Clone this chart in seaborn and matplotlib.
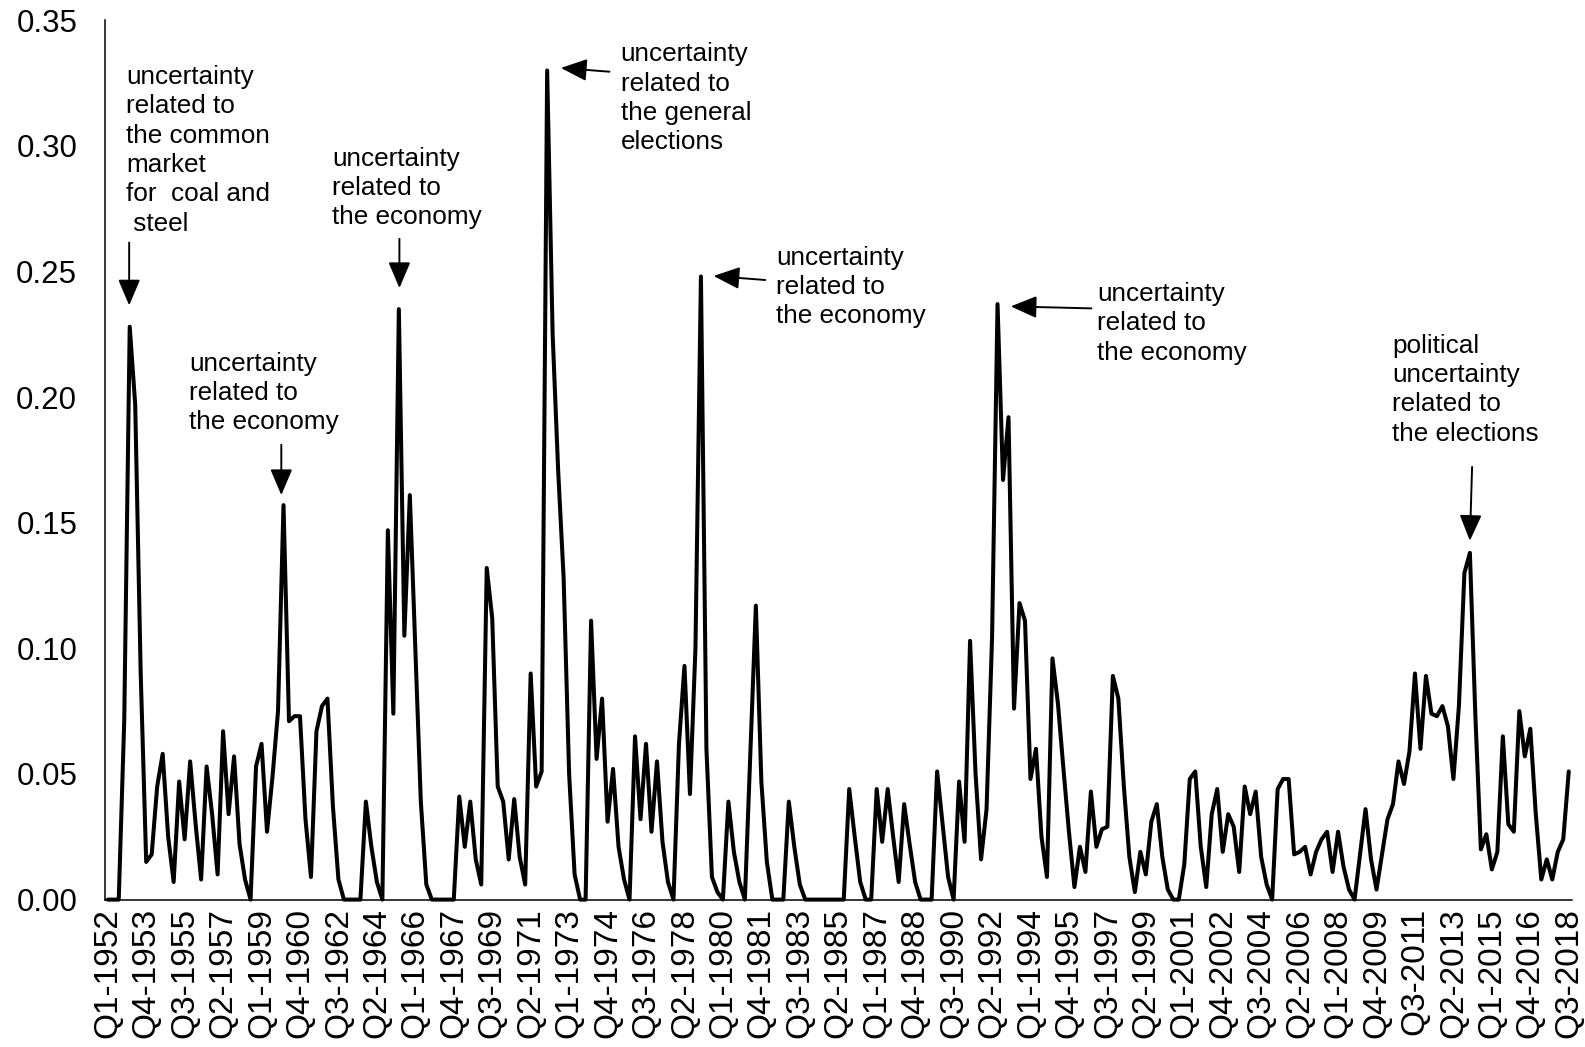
import matplotlib
matplotlib.use("Agg")
import matplotlib.pyplot as plt
import seaborn as sns
import pandas as pd
import numpy as np
from matplotlib.ticker import FormatStrFormatter

# ---------------- data ----------------
start_year = 1952
uncertainty = [
    0.000, 0.000, 0.000, 0.071,  # 1952
    0.228, 0.197, 0.090, 0.015,  # 1953
    0.018, 0.045, 0.058, 0.025,  # 1954
    0.007, 0.047, 0.024, 0.055,  # 1955
    0.030, 0.008, 0.053, 0.034,  # 1956
    0.010, 0.067, 0.034, 0.057,  # 1957
    0.022, 0.008, 0.000, 0.053,  # 1958
    0.062, 0.027, 0.049, 0.075,  # 1959
    0.157, 0.071, 0.073, 0.073,  # 1960
    0.032, 0.009, 0.067, 0.077,  # 1961
    0.080, 0.037, 0.008, 0.000,  # 1962
    0.000, 0.000, 0.000, 0.039,  # 1963
    0.021, 0.007, 0.000, 0.147,  # 1964
    0.074, 0.235, 0.105, 0.161,  # 1965
    0.100, 0.039, 0.006, 0.000,  # 1966
    0.000, 0.000, 0.000, 0.000,  # 1967
    0.041, 0.021, 0.039, 0.016,  # 1968
    0.006, 0.132, 0.112, 0.045,  # 1969
    0.039, 0.016, 0.040, 0.017,  # 1970
    0.006, 0.090, 0.045, 0.051,  # 1971
    0.330, 0.225, 0.171, 0.128,  # 1972
    0.050, 0.010, 0.000, 0.000,  # 1973
    0.111, 0.056, 0.080, 0.031,  # 1974
    0.052, 0.021, 0.008, 0.000,  # 1975
    0.065, 0.032, 0.062, 0.027,  # 1976
    0.055, 0.023, 0.007, 0.000,  # 1977
    0.062, 0.093, 0.042, 0.100,  # 1978
    0.248, 0.060, 0.009, 0.003,  # 1979
    0.000, 0.039, 0.019, 0.007,  # 1980
    0.000, 0.058, 0.117, 0.047,  # 1981
    0.015, 0.000, 0.000, 0.000,  # 1982
    0.039, 0.021, 0.006, 0.000,  # 1983
    0.000, 0.000, 0.000, 0.000,  # 1984
    0.000, 0.000, 0.000, 0.044,  # 1985
    0.025, 0.007, 0.000, 0.000,  # 1986
    0.044, 0.023, 0.044, 0.025,  # 1987
    0.007, 0.038, 0.022, 0.007,  # 1988
    0.000, 0.000, 0.000, 0.051,  # 1989
    0.030, 0.009, 0.000, 0.047,  # 1990
    0.023, 0.103, 0.050, 0.016,  # 1991
    0.036, 0.104, 0.237, 0.167,  # 1992
    0.192, 0.076, 0.118, 0.111,  # 1993
    0.048, 0.060, 0.025, 0.009,  # 1994
    0.096, 0.078, 0.052, 0.027,  # 1995
    0.005, 0.021, 0.011, 0.043,  # 1996
    0.021, 0.028, 0.029, 0.089,  # 1997
    0.080, 0.045, 0.017, 0.003,  # 1998
    0.019, 0.010, 0.031, 0.038,  # 1999
    0.017, 0.004, 0.000, 0.000,  # 2000
    0.014, 0.048, 0.051, 0.021,  # 2001
    0.005, 0.034, 0.044, 0.019,  # 2002
    0.034, 0.029, 0.011, 0.045,  # 2003
    0.034, 0.043, 0.017, 0.006,  # 2004
    0.000, 0.044, 0.048, 0.048,  # 2005
    0.018, 0.019, 0.021, 0.010,  # 2006
    0.019, 0.024, 0.027, 0.011,  # 2007
    0.027, 0.013, 0.004, 0.000,  # 2008
    0.018, 0.036, 0.016, 0.004,  # 2009
    0.018, 0.032, 0.038, 0.055,  # 2010
    0.046, 0.059, 0.090, 0.060,  # 2011
    0.089, 0.074, 0.073, 0.077,  # 2012
    0.069, 0.048, 0.077, 0.130,  # 2013
    0.138, 0.073, 0.020, 0.026,  # 2014
    0.012, 0.019, 0.065, 0.030,  # 2015
    0.027, 0.075, 0.057, 0.068,  # 2016
    0.034, 0.008, 0.016, 0.008,  # 2017
    0.019, 0.024, 0.051,         # 2018
]
quarters = [f"Q{k % 4 + 1}-{start_year + k // 4}" for k in range(len(uncertainty))]
tick_step = 7
y_ticks = [0.00, 0.05, 0.10, 0.15, 0.20, 0.25, 0.30, 0.35]

# annotation texts
note_texts = [
    "uncertainty\nrelated to\nthe common\nmarket\nfor  coal and\n steel",
    "uncertainty\nrelated to\nthe economy",
    "uncertainty\nrelated to\nthe economy",
    "uncertainty\nrelated to\nthe general\nelections",
    "uncertainty\nrelated to\nthe economy",
    "uncertainty\nrelated to\nthe economy",
    "political\nuncertainty\nrelated to\nthe elections",
]

# ---------------- layout (positions in data coordinates) ----------------
note_text_pos = [(3.4, 0.3322), (14.8, 0.2180), (40.9, 0.2997), (93.4, 0.3412),
                 (121.7, 0.2602), (180.1, 0.2458), (233.8, 0.2252)]
arrow_tail = [(3.9, 0.2615), (31.6, 0.181), (53.1, 0.263), (91.35, 0.3295),
              (119.7, 0.2466), (179.1, 0.2353), (248.4, 0.1722)]
arrow_head = [(3.9, 0.2365), (31.6, 0.161), (53.1, 0.2434), (82.5, 0.331),
              (110.3, 0.2482), (164.4, 0.2361), (248.0, 0.1428)]

sns.set_theme(style="white")
plt.rcParams["font.family"] = ["Liberation Sans", "DejaVu Sans"]

W, H = 1585, 1047
fig = plt.figure(figsize=(W / 100, H / 100), dpi=100)
ax_left, ax_right, ax_top, ax_bottom = 105, 1571.5, 20.2, 899.6
ax = fig.add_axes([ax_left / W, 1 - ax_bottom / H, (ax_right - ax_left) / W, (ax_bottom - ax_top) / H])

df = pd.DataFrame({"idx": np.arange(len(uncertainty)), "value": uncertainty})
sns.lineplot(data=df, x="idx", y="value", color="black", linewidth=2.9, ax=ax)
for ln in ax.get_lines():
    ln.set_clip_on(False)

n = len(uncertainty)
ax.set_xlim(-0.5, n - 0.5)
ax.set_ylim(0, 0.35)
ax.set_yticks(y_ticks)
ax.yaxis.set_major_formatter(FormatStrFormatter("%.2f"))
ax.set_xticks(np.arange(0, n, tick_step))
ax.set_xticklabels(quarters[::tick_step], rotation=90)
ax.set_xlabel("")
ax.set_ylabel("")

for side in ["top", "right"]:
    ax.spines[side].set_visible(False)
for side in ["left", "bottom"]:
    ax.spines[side].set_color("black")
    ax.spines[side].set_linewidth(1.1)

ax.tick_params(axis="y", length=0, pad=20, labelsize=22.5, labelcolor="black")
ax.tick_params(axis="x", length=0, pad=6, labelsize=24, labelcolor="black")
ax.grid(False)

for txt, tp, tail, head in zip(note_texts, note_text_pos, arrow_tail, arrow_head):
    ax.text(tp[0], tp[1], txt, ha="left", va="top", fontsize=18.8,
            linespacing=1.28, color="black")
    ax.annotate("", xy=head, xytext=tail,
                arrowprops=dict(arrowstyle="-|>,head_length=0.8,head_width=0.34",
                                color="black", lw=1.4, mutation_scale=20,
                                shrinkA=0, shrinkB=0))

fig.savefig("out.png", dpi=100, facecolor="white")
